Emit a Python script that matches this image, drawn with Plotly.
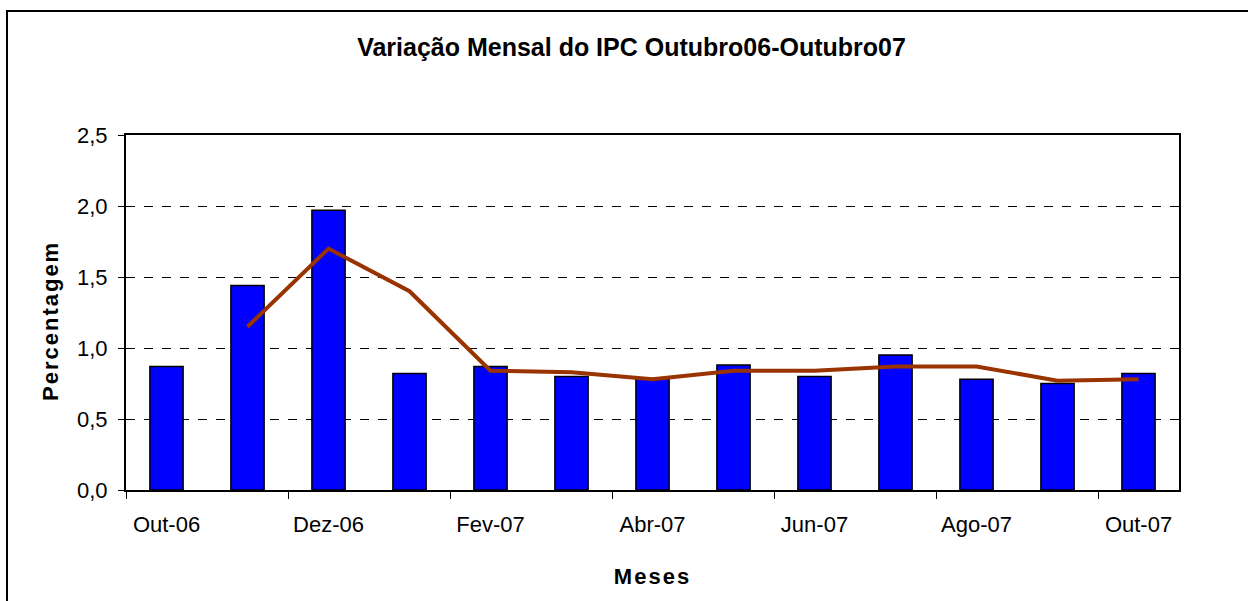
import plotly.graph_objects as go

months = ["Out-06", "Nov-06", "Dez-06", "Jan-07", "Fev-07", "Mar-07", "Abr-07",
          "Mai-07", "Jun-07", "Jul-07", "Ago-07", "Set-07", "Out-07"]
ipc = [0.87, 1.44, 1.97, 0.82, 0.87, 0.80, 0.78, 0.88, 0.80, 0.95, 0.78, 0.75, 0.82]
media_movel = [None, 1.15, 1.70, 1.40, 0.84, 0.83, 0.78, 0.84, 0.84, 0.87, 0.87, 0.77, 0.78]

x = list(range(len(months)))
label_idx = x[::2]
label_txt = [months[i] for i in label_idx]
boundary = [i - 0.5 for i in label_idx]

FONT = "Liberation Sans, Arial, sans-serif"
W, H = 1248, 601
L, R, T, B = 126, 69, 135, 111
PH = H - T - B
PW = W - L - R

fig = go.Figure()
fig.add_trace(go.Bar(
    x=x, y=ipc, width=0.41,
    marker=dict(color="#0000FF", line=dict(color="#000000", width=1.5)),
    showlegend=False,
))
fig.add_trace(go.Scatter(
    x=x, y=media_movel, mode="lines",
    line=dict(color="#993300", width=4),
    showlegend=False,
))

fig.update_layout(
    width=W, height=H,
    margin=dict(l=L, r=R, t=T, b=B),
    paper_bgcolor="white", plot_bgcolor="white",
    separators=",.",
    font=dict(family=FONT, size=22, color="black"),
    title=dict(
        text="<b>Variação Mensal do IPC Outubro06-Outubro07</b>",
        x=0.506, xref="container", xanchor="center",
        y=1 - 47 / H, yref="container", yanchor="middle",
        font=dict(family=FONT, size=25, color="black"),
    ),
    xaxis=dict(
        range=[-0.5, 12.5],
        tickmode="array", tickvals=label_idx, ticktext=label_txt,
        ticks="", showgrid=False, zeroline=False,
        showline=True, linecolor="black", linewidth=2, mirror=True,
        ticklabelstandoff=14,
        minor=dict(tickmode="array", tickvals=boundary, ticks="outside",
                   ticklen=7, tickcolor="black", tickwidth=1, showgrid=False),
        title=dict(text="<b><span style='letter-spacing:2px'>Meses</span></b>",
                   font=dict(family=FONT, size=22), standoff=32),
    ),
    yaxis=dict(
        range=[0, 2.5], tickmode="array", tickvals=[0, 0.5, 1.0, 1.5, 2.0, 2.5],
        tickformat=".1f",
        ticks="outside", ticklen=6, tickcolor="black", tickwidth=1,
        showgrid=True, gridcolor="black", gridwidth=1, griddash="dash",
        zeroline=False,
        showline=True, linecolor="black", linewidth=2, mirror=True,
        ticklabelstandoff=6,
    ),
    annotations=[dict(
        text="<b><span style='letter-spacing:2px'>Percentagem</span></b>",
        textangle=-90, xref="paper", yref="paper",
        x=(50 - L) / PW, y=(H - B - 321) / PH,
        xanchor="center", yanchor="middle", showarrow=False,
        font=dict(family=FONT, size=22, color="black"),
    )],
    shapes=[dict(type="rect", xref="paper", yref="paper",
                 x0=(7 - L) / PW, x1=1.2,
                 y0=-0.6, y1=(H - B - 11) / PH,
                 line=dict(color="black", width=2), fillcolor="rgba(0,0,0,0)",
                 layer="below")],
)

fig.write_html("out.html", config={"displayModeBar": False},
               post_script="document.body.style.margin='0';document.body.style.overflow='hidden';")
